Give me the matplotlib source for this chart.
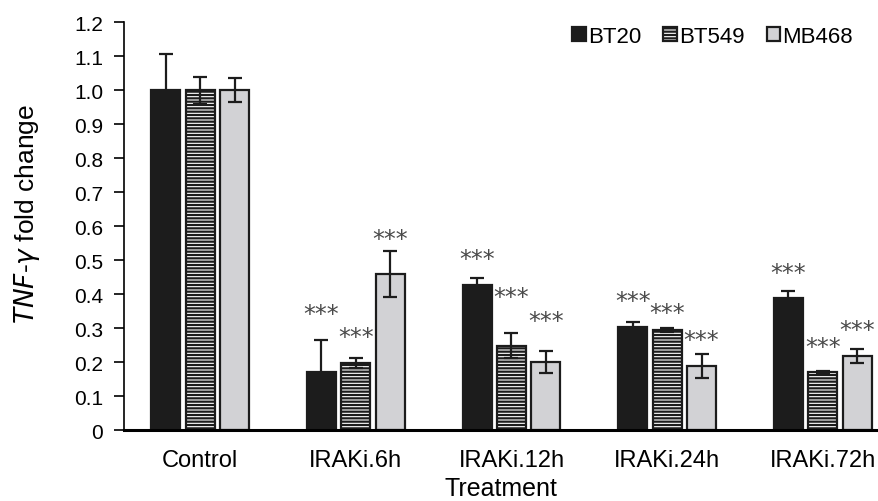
import numpy as np
import matplotlib.pyplot as plt
from matplotlib.transforms import offset_copy

plt.rcParams['font.family'] = ['Liberation Sans', 'DejaVu Sans']
plt.rcParams['hatch.color'] = '#6e6e6e'
plt.rcParams['hatch.linewidth'] = 1.6

treatments = ["Control", "IRAKi.6h", "IRAKi.12h", "IRAKi.24h", "IRAKi.72h"]
lines = ["BT20", "BT549", "MB468"]

bt20 = [1.0, 0.171, 0.426, 0.302, 0.388]
bt549 = [1.0, 0.196, 0.248, 0.294, 0.170]
mb468 = [1.0, 0.459, 0.201, 0.189, 0.217]

bt20_err = [0.105, 0.095, 0.021, 0.015, 0.020]
bt549_err = [0.040, 0.015, 0.036, 0.005, 0.005]
mb468_err = [0.035, 0.068, 0.032, 0.035, 0.021]

# height of the *** marks (None = no mark)
bt20_star = [None, 0.356, 0.518, 0.393, 0.478]
bt549_star = [None, 0.287, 0.407, 0.359, 0.260]
mb468_star = [None, 0.576, 0.336, 0.279, 0.309]

fig = plt.figure(figsize=(8.79, 5.02), dpi=100)
ax = fig.add_axes([0.141, 0.1414, 0.857, 0.8125])

x = np.arange(len(treatments))
w = 0.186
off = 0.221

styles = [
    dict(color='#1c1c1c', edgecolor='#1c1c1c', hatch=None),
    dict(color='white', edgecolor='#1c1c1c', hatch='-----'),
    dict(color='#d2d2d5', edgecolor='#1c1c1c', hatch=None),
]
vals = [bt20, bt549, mb468]
errs = [bt20_err, bt549_err, mb468_err]
stars = [bt20_star, bt549_star, mb468_star]

# asterisks sit high in the glyph box, nudge them down a little
star_tr = offset_copy(ax.transData, fig=fig, y=-5, units='dots')

for i in range(3):
    pos = x + (i - 1) * off
    ax.bar(pos, vals[i], w, color=styles[i]['color'], edgecolor=styles[i]['edgecolor'],
           hatch=styles[i]['hatch'], linewidth=1.6, label=lines[i], zorder=2)
    ax.errorbar(pos, vals[i], yerr=errs[i], fmt='none', ecolor='#1c1c1c',
                elinewidth=1.6, capsize=5, capthick=1.6, zorder=3)
    for p, s in zip(pos, stars[i]):
        if s is not None:
            ax.text(p, s, "***", ha='center', va='center', fontsize=17,
                    family='DejaVu Sans', color='#4a4a4a', transform=star_tr)

ax.set_xlim(-0.49, 4.35)
ax.set_ylim(0, 1.2)
ax.set_yticks(np.arange(0, 1.21, 0.1))
ax.set_yticklabels(["0"] + [f"{v:.1f}" for v in np.arange(0.1, 1.21, 0.1)])
ax.set_xticks(x)
ax.set_xticklabels(treatments)
ax.tick_params(axis='x', length=0, labelsize=17, pad=14)
ax.tick_params(axis='y', direction='out', length=7, width=1.2, labelsize=15, pad=8)

ax.spines['top'].set_visible(False)
ax.spines['right'].set_visible(False)
ax.spines['left'].set_linewidth(1.2)
ax.spines['bottom'].set_linewidth(2.2)

ax.set_xlabel("Treatment", fontsize=18, labelpad=3)
ax.set_ylabel(r"$\it{TNF}$-$\it{\gamma}$ fold change", fontsize=19)
ax.yaxis.set_label_coords(-0.109, 0.532)

ax.legend(loc='upper right', bbox_to_anchor=(0.994, 1.04), ncol=3, frameon=False,
          fontsize=16, handlelength=0.6, handleheight=0.6, handletextpad=0.1,
          columnspacing=1.0)

fig.savefig("out.png", dpi=100)
